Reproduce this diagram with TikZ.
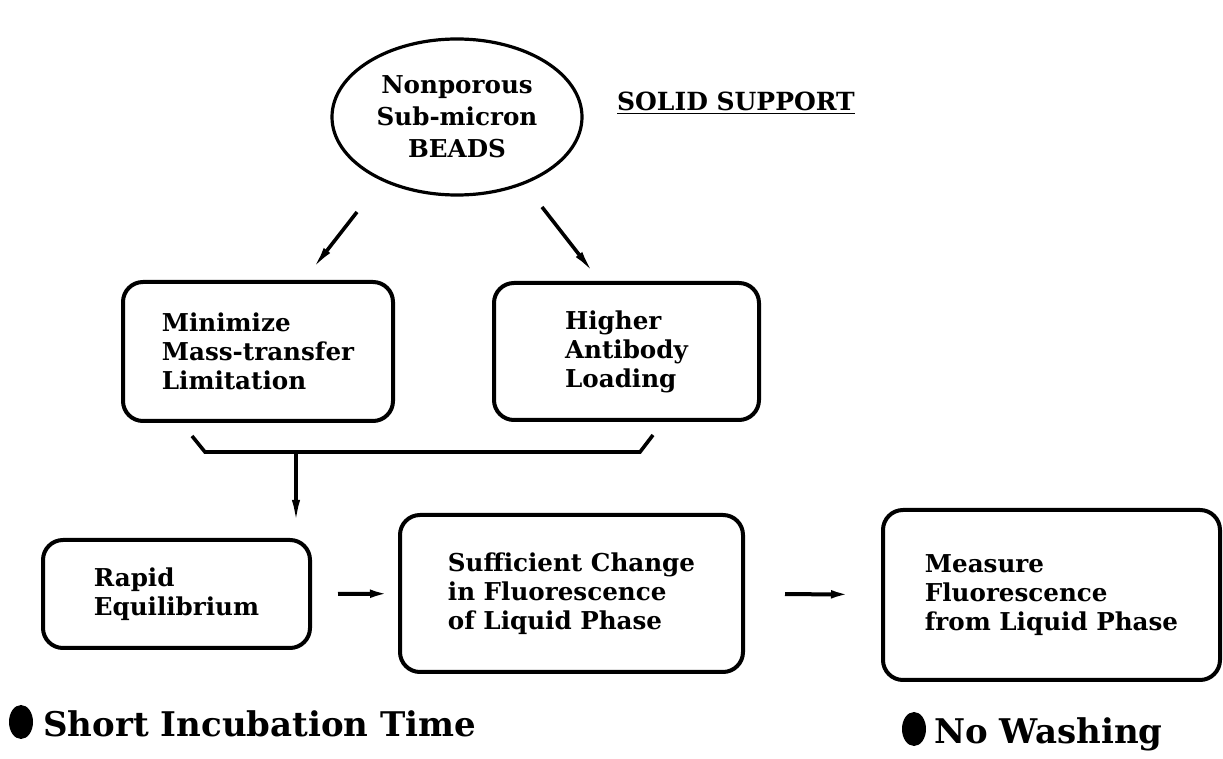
\documentclass[tikz,border=0pt]{standalone}
\usepackage{fontspec}
\setmainfont{DejaVu Serif}
\usetikzlibrary{shapes.geometric,arrows.meta,calc}

\tikzset{
  stepbox/.style={draw, line width=2pt, rounded corners=10pt, align=left,
    font=\bfseries\fontsize{12.3}{14.5}\selectfont},
  flow/.style={line width=1.8pt, -{Latex[length=13pt,width=4pt]}},
  bullettext/.style={font=\bfseries\fontsize{17}{20}\selectfont, anchor=base west, inner sep=0pt},
}

\begin{document}
\begin{tikzpicture}[x=0.5pt, y=-0.5pt]
    \useasboundingbox (0,0) rectangle (1223,759);

    % top: the beads
    \node[ellipse, draw, line width=1.6pt, inner sep=1pt, minimum width=125pt, minimum height=78pt,
          align=center, font=\bfseries\fontsize{12.3}{16}\selectfont] (beads) at (457,117)
          {Nonporous\\Sub-micron\\BEADS};
    \node[font=\bfseries\fontsize{12.5}{15}\selectfont] (solid) at (736,103) {\underline{SOLID SUPPORT}};

    % second row
    \node[stepbox, minimum width=135pt, minimum height=69.5pt] (mass) at (258,351.5)
          {Minimize\\Mass-transfer\\Limitation};
    \node[stepbox, minimum width=132.5pt, minimum height=68.5pt] (load) at (626.5,351.5)
          {Higher\\Antibody\\Loading};

    % third row
    \node[stepbox, minimum width=133.5pt, minimum height=54pt] (rapid) at (176.5,594)
          {Rapid\\Equilibrium};
    \node[stepbox, minimum width=171.5pt, minimum height=78.5pt] (suff) at (571.5,593.5)
          {Sufficient Change\\in Fluorescence\\of Liquid Phase};
    \node[stepbox, minimum width=168.5pt, minimum height=85pt] (meas) at (1051.5,595)
          {Measure\\Fluorescence\\from Liquid Phase};

    % arrows from the beads
    \draw[flow] ($(beads.center)+(-100,95)$) -- ($(mass.north)+(53,-9)$);
    \draw[flow] ($(beads.center)+(85,90)$) -- ($(load.north)+(-31.5,-6)$);

    % bracket under the second row
    \draw[line width=1.8pt] ($(mass.south)+(-66,13)$) -- ++(13,16) coordinate (brL)
        -- ($(load.south)+(13.5,30)$) coordinate (brR) -- ++(13,-17);
    \coordinate (join) at ($(brL)+(91,0)$);
    \draw[flow, shorten >=6pt] (join) -- (join |- rapid.north);

    % along the third row
    \draw[flow, line width=2pt, shorten <=13pt, shorten >=1pt] (rapid) -- (suff);
    \draw[flow, line width=2pt, shorten <=20pt, shorten >=12pt] (suff) -- (meas);

    % bullets
    \node[bullettext] (incub) at (43,736) {Short Incubation Time};
    \fill ($(incub.base west)+(-22,-14)$) ellipse [x radius=6pt, y radius=8.5pt];
    \node[bullettext] (wash) at (934,743) {No Washing};
    \fill ($(wash.base west)+(-20,-14)$) ellipse [x radius=6pt, y radius=8.5pt];
\end{tikzpicture}
\end{document}
